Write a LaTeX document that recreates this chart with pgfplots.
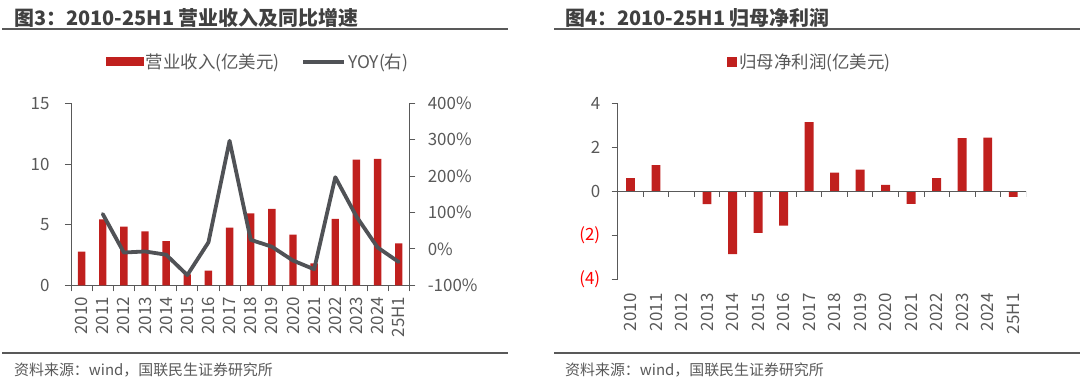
\documentclass[border=0pt]{standalone}
\usepackage{pgfplots}
\pgfplotsset{compat=1.18}
\usepackage{fontspec}
\setmainfont{Noto Sans CJK SC}
\definecolor{barred}{RGB}{192,32,30}
\definecolor{linegray}{RGB}{80,82,86}
\definecolor{txtgray}{RGB}{89,89,89}
\definecolor{titlegray}{RGB}{64,64,64}
\begin{document}
\begin{tikzpicture}
\path[use as bounding box] (0,0) rectangle (1080bp,383bp);
% titles and rules
\node[anchor=west, font=\fontsize{20}{22}\selectfont\bfseries, text=titlegray, inner sep=0] at (14bp,365bp) {图3：2010-25H1 营业收入及同比增速};
\node[anchor=west, font=\fontsize{20}{22}\selectfont\bfseries, text=titlegray, inner sep=0] at (565bp,365bp) {图4：2010-25H1 归母净利润};
\draw[line width=2bp, txtgray] (2bp,353.7bp) -- (508bp,353.7bp);
\draw[line width=2bp, txtgray] (554bp,353.7bp) -- (1080bp,353.7bp);
\draw[line width=2bp, txtgray] (2bp,30.3bp) -- (508bp,30.3bp);
\draw[line width=2bp, txtgray] (554bp,30.3bp) -- (1080bp,30.3bp);
\node[anchor=west, font=\fontsize{15}{17}\selectfont, text=txtgray, inner sep=0] at (14bp,13bp) {资料来源：wind，国联民生证券研究所};
\node[anchor=west, font=\fontsize{15}{17}\selectfont, text=txtgray, inner sep=0] at (565bp,13bp) {资料来源：wind，国联民生证券研究所};

\pgfplotsset{
  common/.style={
    scale only axis,
    anchor=south west,
    xmin=-0.5, xmax=15.5,
    tick align=outside,
    major tick length=6bp,
    every tick/.style={draw=txtgray, line width=0.8bp},
    axis line style={-, draw=txtgray, line width=0.8bp},
    ticklabel style={font=\fontsize{17}{19}\selectfont, text=txtgray},
    /pgf/number format/assume math mode=true,
    legend style={draw=none, fill=none, font=\fontsize{17.5}{19}\selectfont, text=txtgray, legend columns=-1, /tikz/every even column/.append style={column sep=20bp}},
  }
}

% ---------- Chart 3 : revenue bars ----------
\begin{axis}[common,
  at={(71bp,97.7bp)}, width=338.3bp, height=182bp,
  ymin=0, ymax=15, ytick={0,5,10,15},
  axis x line*=bottom, axis y line*=left,
  xtick={-0.5,0.5,1.5,2.5,3.5,4.5,5.5,6.5,7.5,8.5,9.5,10.5,11.5,12.5,13.5,14.5,15.5},
  xticklabels={},
  extra x ticks={0,1,2,3,4,5,6,7,8,9,10,11,12,13,14,15},
  extra x tick labels={2010,2011,2012,2013,2014,2015,2016,2017,2018,2019,2020,2021,2022,2023,2024,25H1},
  extra x tick style={major tick length=0pt, xticklabel style={rotate=90, anchor=east, xshift=-8bp}},
  yticklabel style={xshift=-12bp},
  legend style={at={(0.553,1.227)}, anchor=center},
]
\addplot[ybar, bar width=0.35, bar shift=0pt, fill=barred, draw=none,
  legend image code/.code={\fill[barred] (0bp,-4.5bp) rectangle (38bp,4.5bp);}]
  coordinates {(0,2.77) (1,5.44) (2,4.83) (3,4.45) (4,3.65) (5,0.9) (6,1.2) (7,4.75)
  (8,5.93) (9,6.29) (10,4.17) (11,1.81) (12,5.47) (13,10.35) (14,10.41) (15,3.46)};
\addlegendentry{营业收入(亿美元)}
\addlegendimage{legend image code/.code={\draw[linegray, line width=3.5bp] (0bp,0bp) -- (41bp,0bp);}}
\addlegendentry{YOY(右)}
\end{axis}

\begin{axis}[common,
  at={(71bp,97.7bp)}, width=338.3bp, height=182bp,
  ymin=-100, ymax=400, ytick={-100,0,100,200,300,400},
  axis x line=none, axis y line*=right,
  yticklabel={\pgfmathprintnumber{\tick}\%},
  yticklabel style={xshift=9bp},
]
\addplot[linegray, line width=3.8bp, line join=round, line cap=round, mark=none]
  coordinates {(1,96) (2,-10) (3,-7) (4,-16) (5,-72) (6,18) (7,297) (8,25)
  (9,6) (10,-32) (11,-56) (12,197) (13,89) (14,4) (15,-36)};
\end{axis}

% ---------- Chart 4 : net profit ----------
\begin{axis}[common,
  at={(617.7bp,104bp)}, width=408.3bp, height=175.7bp,
  ymin=-4, ymax=4, ytick={-4,-2,0,2,4},
  yticklabels={{\textcolor{red}{(4)}},{\textcolor{red}{(2)}},0,2,4},
  axis x line*=bottom, axis y line*=left,
  x axis line style={draw=none},
  xtick={0,1,2,3,4,5,6,7,8,9,10,11,12,13,14,15},
  xticklabels={2010,2011,2012,2013,2014,2015,2016,2017,2018,2019,2020,2021,2022,2023,2024,25H1},
  x tick style={draw=none},
  xticklabel style={rotate=90, anchor=east, xshift=-5bp},
  yticklabel style={xshift=-8bp},
  legend style={at={(0.471,1.235)}, anchor=center},
]
\addplot[ybar, bar width=0.35, bar shift=0pt, fill=barred, draw=none,
  legend image code/.code={\fill[barred] (0bp,-5bp) rectangle (10bp,5bp);}]
  coordinates {(0,0.59) (1,1.19) (2,0) (3,-0.59) (4,-2.87) (5,-1.9) (6,-1.57) (7,3.14)
  (8,0.84) (9,0.98) (10,0.29) (11,-0.58) (12,0.59) (13,2.41) (14,2.44) (15,-0.26)};
\addlegendentry{归母净利润(亿美元)}
\draw[txtgray, line width=0.8bp] (axis cs:-0.5,0) -- (axis cs:15.5,0);
\pgfplotsinvokeforeach{0.5,1.5,2.5,3.5,4.5,5.5,6.5,7.5,8.5,9.5,10.5,11.5,12.5,13.5,14.5,15.5}{
  \draw[txtgray, line width=0.8bp] (axis cs:#1,0) -- ++(0bp,-6bp);
}
\end{axis}
\end{tikzpicture}
\end{document}
